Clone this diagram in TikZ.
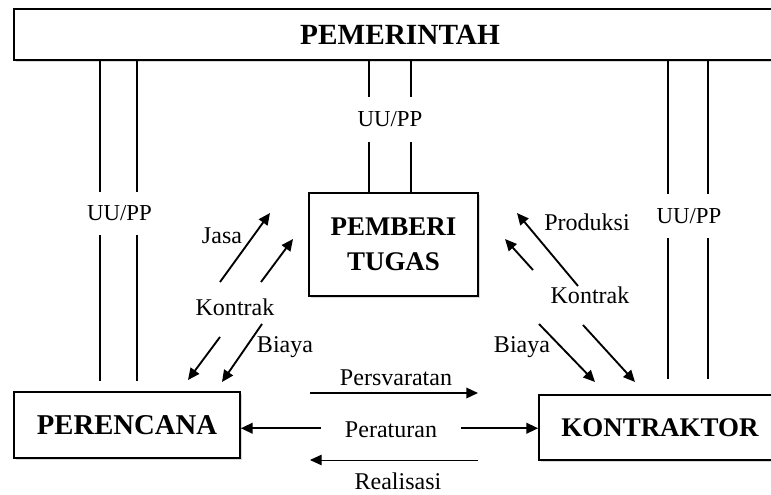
\documentclass[tikz,border=0pt]{standalone}
\usepackage{fontspec}
\setmainfont{Liberation Serif}
\usetikzlibrary{arrows.meta,shadows}

\begin{document}
\begin{tikzpicture}[x=0.03cm,y=-0.03cm,
  box/.style={draw,line width=1.4pt,fill=white,rectangle,inner sep=0pt,align=center,
    font=\fontsize{23}{30}\selectfont\bfseries,
    drop shadow={opacity=0.3,shadow xshift=1.5pt,shadow yshift=-2pt}},
  lbl/.style={font=\fontsize{20.5}{23}\selectfont,inner sep=0pt},
  uu/.style={font=\fontsize{19.5}{22}\selectfont,inner sep=0pt,minimum width=1.8cm},
  uline/.style={line width=1.2pt},
  arr/.style={-{Triangle[length=10pt,width=9pt]},line width=1.6pt}]
\useasboundingbox (0,0) rectangle (771,494);

% Boxes
\node[box,minimum width=23.16cm,minimum height=1.53cm,font=\fontsize{25}{30}\selectfont\bfseries] (pem) at (400,34.5) {PEMERINTAH};
\node[box,minimum width=5.07cm,minimum height=3.09cm] (pemb) at (393.5,244.5) {PEMBERI\\TUGAS};
\node[box,minimum width=6.78cm,minimum height=1.98cm,font=\fontsize{24.5}{30}\selectfont\bfseries] (perc) at (127,425) {PERENCANA};
\node[box,minimum width=7.26cm,minimum height=1.95cm] (kon) at (660,427.5) {KONTRAKTOR};

% UU/PP lines from PEMERINTAH
\node[uu,minimum height=1.29cm] (uuL) at (119.5,213.5) {UU/PP};
\node[uu,minimum height=1.35cm] (uuC) at (390,119.5) {UU/PP};
\node[uu,minimum height=1.32cm] (uuR) at (689,216) {UU/PP};
\foreach \s in {-0.555cm,0.555cm}{
  \draw[uline] ([xshift=\s-0.03cm]uuL.north) -- ([xshift=\s-0.03cm]pem.south -| uuL.north);
  \draw[uline,shorten >=0.3cm] ([xshift=\s-0.03cm]uuL.south) -- ([xshift=\s-0.03cm]perc.north -| uuL.south);
}
\foreach \s in {-0.63cm,0.63cm}{
  \draw[uline] ([xshift=\s]uuC.north) -- ([xshift=\s]pem.south -| uuC.north);
  \draw[uline] ([xshift=\s]uuC.south) -- ([xshift=\s]pemb.north -| uuC.south);
}
\foreach \s in {-0.6cm,0.6cm}{
  \draw[uline] ([xshift=\s-0.03cm]uuR.north) -- ([xshift=\s-0.03cm]pem.south -| uuR.north);
  \draw[uline,shorten >=0.45cm] ([xshift=\s-0.03cm]uuR.south) -- ([xshift=\s-0.03cm]kon.north -| uuR.south);
}

% Left side: PERENCANA - PEMBERI TUGAS
\node[lbl] (jasa) at (222,236) {Jasa};
\node[lbl] (kontrakL) at (235,307) {Kontrak};
\node[lbl] (biayaL) at (285,347) {Biaya};
\coordinate (l1a) at (220,282); \coordinate (l1b) at (270,213);
\coordinate (l2a) at (261,282); \coordinate (l2b) at (293,239);
\coordinate (l3a) at (220,337); \coordinate (l3b) at (188,380);
\coordinate (l4a) at (262,324); \coordinate (l4b) at (222,382);
\draw[arr] (l1a) -- (l1b);
\draw[arr] (l2a) -- (l2b);
\draw[arr] (l3a) -- (l3b);
\draw[arr] (l4a) -- (l4b);

% Right side: KONTRAKTOR - PEMBERI TUGAS
\node[lbl] (prod) at (587,222) {Produksi};
\node[lbl] (kontrakR) at (590,295) {Kontrak};
\node[lbl] (biayaR) at (522,347) {Biaya};
\coordinate (r1a) at (578,286); \coordinate (r1b) at (517,213);
\coordinate (r2a) at (533,270); \coordinate (r2b) at (505,239);
\coordinate (r3a) at (539,324); \coordinate (r3b) at (595,382);
\coordinate (r4a) at (583,325); \coordinate (r4b) at (635,382);
\draw[arr] (r1a) -- (r1b);
\draw[arr] (r2a) -- (r2b);
\draw[arr] (r3a) -- (r3b);
\draw[arr] (r4a) -- (r4b);

% Bottom: PERENCANA - KONTRAKTOR
\node[lbl] (pers) at (396,378) {Persvaratan};
\node[lbl,inner xsep=0.72cm] (per) at (391,430) {Peraturan};
\node[lbl] (real) at (398,481) {Realisasi};
\coordinate (b1a) at (310,393); \coordinate (b1b) at (478,393);
\coordinate (b2a) at (478,460); \coordinate (b2b) at (310,460);
\draw[arr] (b1a) -- (b1b);
\draw[arr] ([yshift=1.5pt]per.west) -- ([yshift=1.5pt]per.west -| perc.east);
\draw[arr] ([yshift=1.5pt]per.east) -- ([yshift=1.5pt]per.east -| kon.west);
\draw[arr,line width=0.8pt] (b2a) -- (b2b);
\end{tikzpicture}
\end{document}
